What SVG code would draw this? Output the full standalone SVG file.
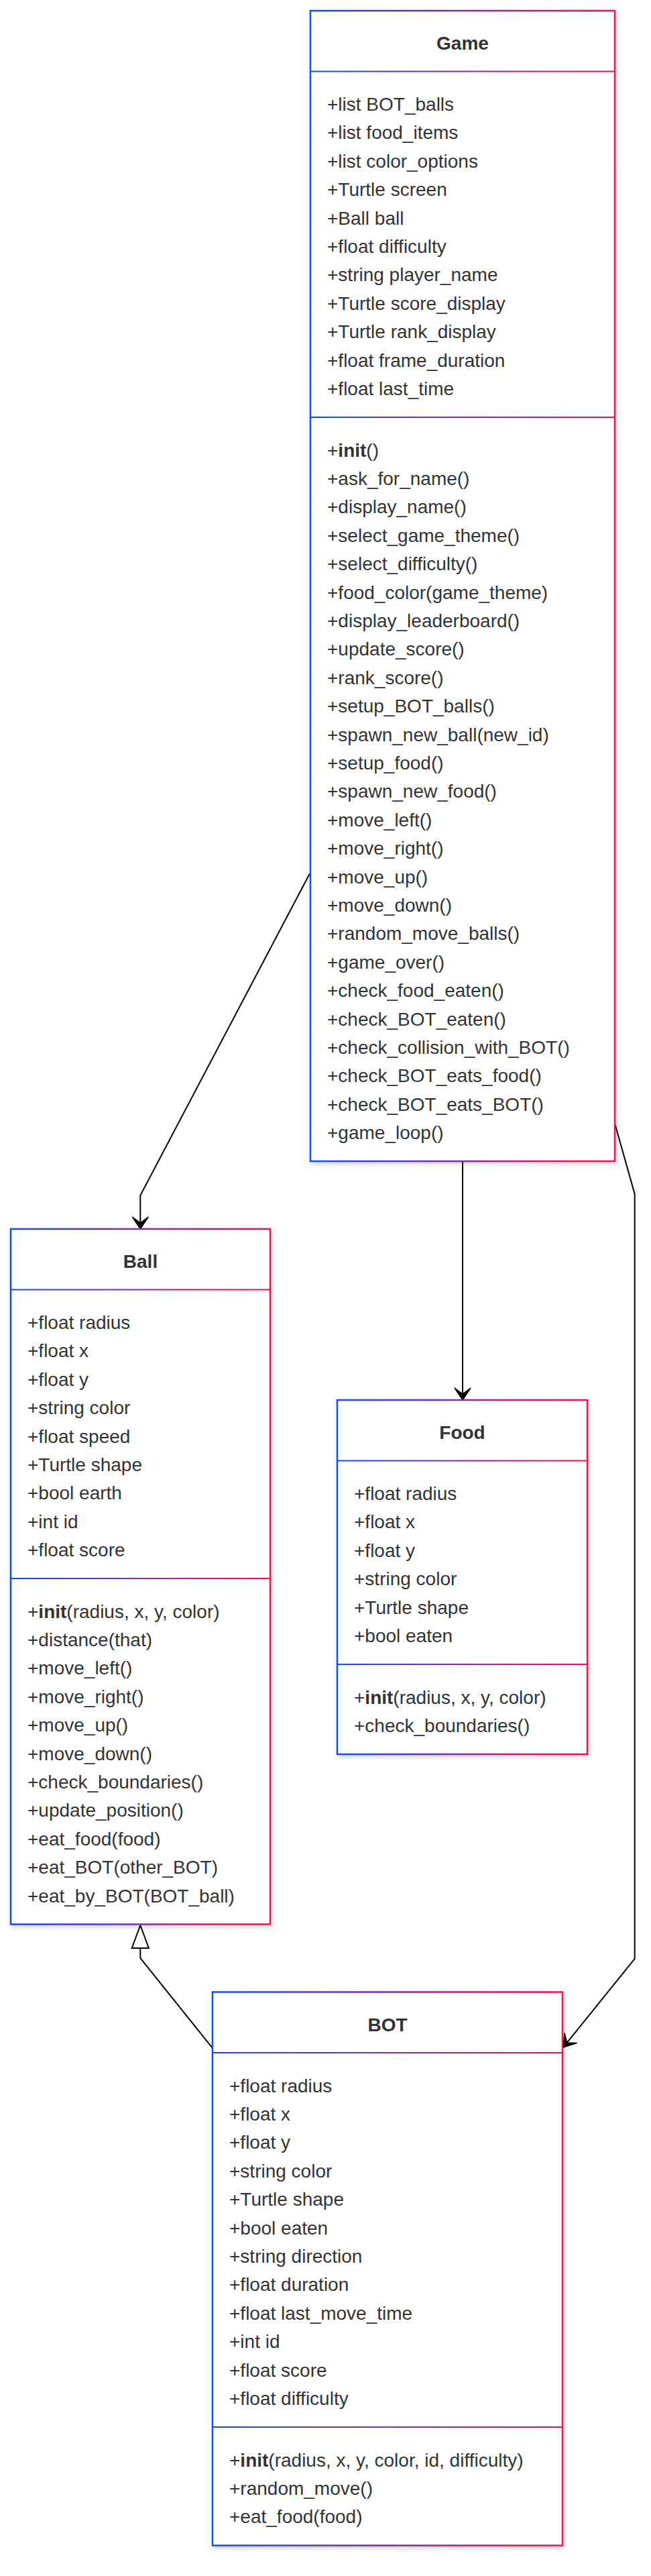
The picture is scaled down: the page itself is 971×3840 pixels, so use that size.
<svg xmlns="http://www.w3.org/2000/svg" width="971" height="3840" viewBox="0 0 971 3840">
<defs>
<linearGradient id="grad" x1="0" y1="0" x2="1" y2="0">
<stop offset="0" stop-color="#0f4dff"/>
<stop offset="1" stop-color="#ff0a47"/>
</linearGradient>
<filter id="shadow" x="-10%" y="-10%" width="120%" height="120%">
<feDropShadow dx="2" dy="3" stdDeviation="3" flood-color="#000" flood-opacity="0.18"/>
</filter>
<marker id="arr" markerWidth="22" markerHeight="28" refX="20" refY="14" orient="auto" markerUnits="userSpaceOnUse" viewBox="0 0 22 28">
<path d="M20,14 L2,2 L11,14 L2,26 Z" fill="#000" stroke="#000" stroke-width="1.5" stroke-linejoin="miter"/>
</marker>
</defs>
<style>
.box{fill:#fff;stroke:url(#grad);stroke-width:2.5;filter:url(#shadow)}
.div{fill:url(#grad)}
.t{font-family:"Liberation Sans",Arial,Helvetica,sans-serif;font-size:28px;fill:#333}
.title{font-weight:bold;text-anchor:middle}
.b{font-weight:bold}
.edge{fill:none;stroke:#000;stroke-width:2}
</style>
<rect width="971" height="3840" fill="#fff"/>

<g id="connectors">
<path class="edge" d="M461.7,1302.7 L209.3,1782 L209.3,1832" marker-end="url(#arr)"/>
<path class="edge" d="M690,1731 L690,2087" marker-end="url(#arr)"/>
<path class="edge" d="M917.7,1677 L946.7,1780 L946.7,2920 L840,3052" marker-end="url(#arr)"/>
<path class="edge" d="M316.7,3052.7 L209.3,2919 L209.3,2904"/>
<polygon points="209.3,2870 196.7,2904 221.9,2904" fill="#fff" stroke="#000" stroke-width="2"/>
</g>

<g id="Game">
<rect class="box" x="463" y="16" width="454" height="1715"/>
<rect class="div" x="463" y="105.5" width="454" height="2"/>
<rect class="div" x="463" y="621" width="454" height="2"/>
<text class="t title" x="690" y="74">Game</text>
<text class="t" x="488" y="165">+list BOT_balls</text>
<text class="t" x="488" y="207.4">+list food_items</text>
<text class="t" x="488" y="249.8">+list color_options</text>
<text class="t" x="488" y="292.2">+Turtle screen</text>
<text class="t" x="488" y="334.6">+Ball ball</text>
<text class="t" x="488" y="377">+float difficulty</text>
<text class="t" x="488" y="419.4">+string player_name</text>
<text class="t" x="488" y="461.8">+Turtle score_display</text>
<text class="t" x="488" y="504.2">+Turtle rank_display</text>
<text class="t" x="488" y="546.6">+float frame_duration</text>
<text class="t" x="488" y="589">+float last_time</text>
<text class="t" x="488" y="680.5">+<tspan class="b">init</tspan>()</text>
<text class="t" x="488" y="722.9">+ask_for_name()</text>
<text class="t" x="488" y="765.3">+display_name()</text>
<text class="t" x="488" y="807.7">+select_game_theme()</text>
<text class="t" x="488" y="850.1">+select_difficulty()</text>
<text class="t" x="488" y="892.5">+food_color(game_theme)</text>
<text class="t" x="488" y="934.9">+display_leaderboard()</text>
<text class="t" x="488" y="977.3">+update_score()</text>
<text class="t" x="488" y="1019.7">+rank_score()</text>
<text class="t" x="488" y="1062.1">+setup_BOT_balls()</text>
<text class="t" x="488" y="1104.5">+spawn_new_ball(new_id)</text>
<text class="t" x="488" y="1146.9">+setup_food()</text>
<text class="t" x="488" y="1189.3">+spawn_new_food()</text>
<text class="t" x="488" y="1231.7">+move_left()</text>
<text class="t" x="488" y="1274.1">+move_right()</text>
<text class="t" x="488" y="1316.5">+move_up()</text>
<text class="t" x="488" y="1358.9">+move_down()</text>
<text class="t" x="488" y="1401.3">+random_move_balls()</text>
<text class="t" x="488" y="1443.7">+game_over()</text>
<text class="t" x="488" y="1486.1">+check_food_eaten()</text>
<text class="t" x="488" y="1528.5">+check_BOT_eaten()</text>
<text class="t" x="488" y="1570.9">+check_collision_with_BOT()</text>
<text class="t" x="488" y="1613.3">+check_BOT_eats_food()</text>
<text class="t" x="488" y="1655.7">+check_BOT_eats_BOT()</text>
<text class="t" x="488" y="1698.1">+game_loop()</text>
</g>

<g id="Ball">
<rect class="box" x="16" y="1832" width="387" height="1036.5"/>
<rect class="div" x="16" y="1921.5" width="387" height="2"/>
<rect class="div" x="16" y="2352" width="387" height="2"/>
<text class="t title" x="209.5" y="1890">Ball</text>
<text class="t" x="41" y="1981">+float radius</text>
<text class="t" x="41" y="2023.4">+float x</text>
<text class="t" x="41" y="2065.8">+float y</text>
<text class="t" x="41" y="2108.2">+string color</text>
<text class="t" x="41" y="2150.6">+float speed</text>
<text class="t" x="41" y="2193">+Turtle shape</text>
<text class="t" x="41" y="2235.4">+bool earth</text>
<text class="t" x="41" y="2277.8">+int id</text>
<text class="t" x="41" y="2320.2">+float score</text>
<text class="t" x="41" y="2411.5">+<tspan class="b">init</tspan>(radius, x, y, color)</text>
<text class="t" x="41" y="2453.9">+distance(that)</text>
<text class="t" x="41" y="2496.3">+move_left()</text>
<text class="t" x="41" y="2538.7">+move_right()</text>
<text class="t" x="41" y="2581.1">+move_up()</text>
<text class="t" x="41" y="2623.5">+move_down()</text>
<text class="t" x="41" y="2665.9">+check_boundaries()</text>
<text class="t" x="41" y="2708.3">+update_position()</text>
<text class="t" x="41" y="2750.7">+eat_food(food)</text>
<text class="t" x="41" y="2793.1">+eat_BOT(other_BOT)</text>
<text class="t" x="41" y="2835.5">+eat_by_BOT(BOT_ball)</text>
</g>

<g id="Food">
<rect class="box" x="503" y="2087" width="373" height="528"/>
<rect class="div" x="503" y="2176.5" width="373" height="2"/>
<rect class="div" x="503" y="2480" width="373" height="2"/>
<text class="t title" x="689.5" y="2145">Food</text>
<text class="t" x="528" y="2236">+float radius</text>
<text class="t" x="528" y="2278.4">+float x</text>
<text class="t" x="528" y="2320.8">+float y</text>
<text class="t" x="528" y="2363.2">+string color</text>
<text class="t" x="528" y="2405.6">+Turtle shape</text>
<text class="t" x="528" y="2448">+bool eaten</text>
<text class="t" x="528" y="2539.5">+<tspan class="b">init</tspan>(radius, x, y, color)</text>
<text class="t" x="528" y="2581.9">+check_boundaries()</text>
</g>

<g id="BOT">
<rect class="box" x="317" y="2969.5" width="522" height="825"/>
<rect class="div" x="317" y="3059" width="522" height="2"/>
<rect class="div" x="317" y="3617" width="522" height="2"/>
<text class="t title" x="578" y="3027.5">BOT</text>
<text class="t" x="342" y="3118.5">+float radius</text>
<text class="t" x="342" y="3160.9">+float x</text>
<text class="t" x="342" y="3203.3">+float y</text>
<text class="t" x="342" y="3245.7">+string color</text>
<text class="t" x="342" y="3288.1">+Turtle shape</text>
<text class="t" x="342" y="3330.5">+bool eaten</text>
<text class="t" x="342" y="3372.9">+string direction</text>
<text class="t" x="342" y="3415.3">+float duration</text>
<text class="t" x="342" y="3457.7">+float last_move_time</text>
<text class="t" x="342" y="3500.1">+int id</text>
<text class="t" x="342" y="3542.5">+float score</text>
<text class="t" x="342" y="3584.9">+float difficulty</text>
<text class="t" x="342" y="3676.5">+<tspan class="b">init</tspan>(radius, x, y, color, id, difficulty)</text>
<text class="t" x="342" y="3718.9">+random_move()</text>
<text class="t" x="342" y="3761.3">+eat_food(food)</text>
</g>
</svg>
